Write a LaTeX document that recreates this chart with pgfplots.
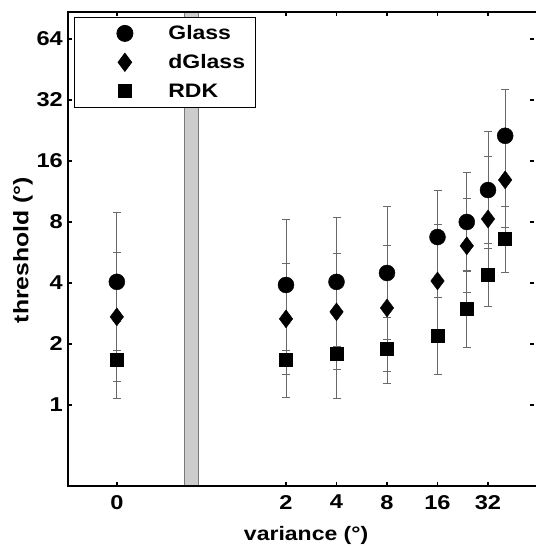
\documentclass[border=0pt]{standalone}
\usepackage{fontspec}
\setmainfont{Liberation Sans}[FakeStretch=1.18]
\usepackage{pgfplots}
\pgfplotsset{compat=1.18}
\usepackage{pgfplotstable}

\definecolor{errgray}{RGB}{105,105,105}
\definecolor{barfill}{RGB}{204,204,204}
\definecolor{barline}{RGB}{120,120,120}
\newcommand\lbl{\fontsize{19.5pt}{22pt}\selectfont\bfseries}
\newcommand\tlbl{\fontsize{20pt}{22pt}\selectfont\bfseries}
\newcommand\ylbl{\fontsize{21pt}{24pt}\selectfont\bfseries}

% x = position on a log2 scale (variance 0 is drawn apart at -2.35)
% ep / em = distance to the upper / lower end of the error bar
\pgfplotstableread{
x     y     ep     em
-2.35 4.05  4.82   2.20
1     3.91  4.37   2.06
2     4.05  4.41   2.11
3     4.48  5.02   2.37
4     6.74  4.66   2.76
4.58  8.00  6.10   3.46
5     11.5  10.8   5.57
5.34  21.3  14.6   8.70
}\glass
\pgfplotstableread{
x     y     ep     em
-2.35 2.72  2.97   1.42
1     2.66  2.31   1.24
2     2.88  2.69   1.39
3     3.01  3.15   1.54
4     4.09  3.71   1.95
4.58  6.10  4.30   2.52
5     8.28  8.52   4.20
5.34  12.9  9.10   5.34
}\dglass
\pgfplotstableread{
x     y     ep     em
-2.35 1.67  0.91   0.59
1     1.67  0.88   0.575
2     1.78  1.15   0.70
3     1.89  0.80   0.62
4     2.19  1.21   0.78
4.58  2.98  1.62   1.05
5     4.38  1.91   1.33
5.34  6.60  3.00   2.07
}\rdk

\begin{document}
\begin{tikzpicture}
\begin{axis}[
    scale only axis, width=466pt, height=474pt,
    xmin=-3.317, xmax=5.911,
    ymode=log, log basis y=2, ymin=0.398, ymax=87,
    xtick={-2.35,1,2,3,4,5}, xticklabels={0,2,4,8,16,32},
    ytick={1,2,4,8,16,32,64}, yticklabels={1,2,4,8,16,32,64},
    minor tick num=0, tick pos=both, tick align=inside,
    major tick length=4pt,
    every tick/.style={black, line width=1.5pt},
    axis line style={draw=none},
    clip=false,
    font=\lbl,
    /pgf/number format/assume math mode=true,
    yticklabel style={anchor=east, inner sep=0pt, xshift=-5pt, font=\tlbl},
    xticklabel style={anchor=north, inner sep=0pt, yshift=-9pt, font=\tlbl},
    xlabel={variance (°)}, ylabel={threshold (°)},
    xlabel style={at={(axis description cs:0.511,-0.1034)}, anchor=center, font=\lbl},
    ylabel style={at={(axis description cs:-0.0966,0.498)}, anchor=center, font=\ylbl},
    legend style={at={(axis description cs:0,1)}, anchor=north west,
        xshift=6pt, yshift=-5pt, draw=black, line width=0.9pt, fill=white,
        inner xsep=10pt, inner ysep=1.5pt, column sep=0pt,
        nodes={inner sep=0pt}, font=\lbl},
    legend cell align=left,
    legend image code/.code={
        \path (-40pt,-14pt) (43pt,14pt);
        \draw[#1, draw=none] plot coordinates {(0pt,0pt)};
    },
    error bars/error bar style={draw=errgray, line width=0.8pt},
    error bars/error mark options={rotate=90, mark size=4pt, line width=0.8pt, draw=errgray},
]
% grey separator between 0 and the log-spaced values
\fill[fill=barfill, draw=barline, line width=0.8pt]
    (axis cs:-1.02,0.398) rectangle (axis cs:-0.74,87);

% error bars first, so the markers sit on top
\addplot[forget plot, only marks, mark=none, error bars/.cd, y dir=both, y explicit]
    table[x=x, y=y, y error plus=ep, y error minus=em]{\glass};
\addplot[forget plot, only marks, mark=none, error bars/.cd, y dir=both, y explicit]
    table[x=x, y=y, y error plus=ep, y error minus=em]{\dglass};
\addplot[forget plot, only marks, mark=none, error bars/.cd, y dir=both, y explicit]
    table[x=x, y=y, y error plus=ep, y error minus=em]{\rdk};

\addplot[only marks, mark=*, mark size=8pt, black, fill=black] table[x=x, y=y]{\glass};
\addlegendentry{Glass}
\addplot[only marks, mark=diamond*, mark size=9pt, black, fill=black] table[x=x, y=y]{\dglass};
\addlegendentry{dGlass}
\addplot[only marks, mark=square*, mark size=6.5pt, black, fill=black] table[x=x, y=y]{\rdk};
\addlegendentry{RDK}

\draw[line width=2pt] (rel axis cs:1.004,1) -- (rel axis cs:0,1)
    -- (rel axis cs:0,0) -- (rel axis cs:1.004,0);
\end{axis}
\pgfresetboundingbox
\path (current axis.south west) ++(-68pt,-61pt) rectangle
      ([shift={(2pt,12pt)}]current axis.north east);
\end{tikzpicture}
\end{document}
